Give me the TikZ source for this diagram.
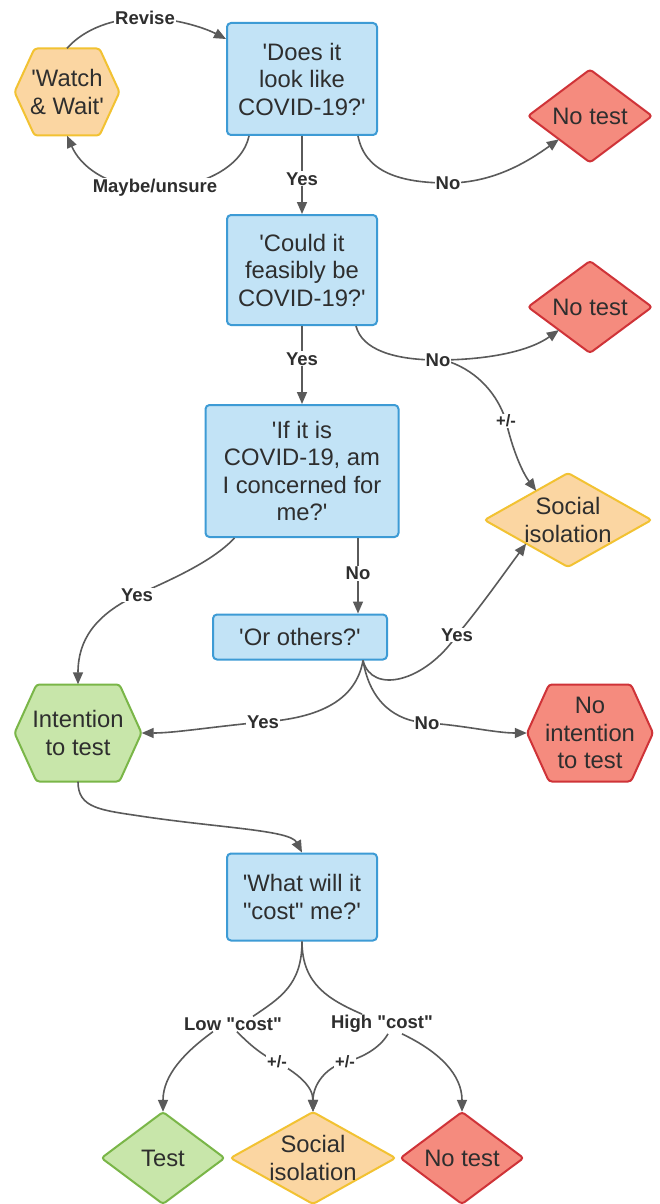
\documentclass[tikz,border=0pt]{standalone}
\usepackage{fontspec}
\setmainfont{Liberation Sans}
\usetikzlibrary{arrows.meta,calc}
\definecolor{bfill}{HTML}{C2E3F6}
\definecolor{bdraw}{HTML}{3D9BD5}
\definecolor{ofill}{HTML}{FBD6A2}
\definecolor{odraw}{HTML}{F2C232}
\definecolor{rfill}{HTML}{F58B7E}
\definecolor{rdraw}{HTML}{CF3338}
\definecolor{gfill}{HTML}{C8E6AA}
\definecolor{gdraw}{HTML}{7AB648}
\definecolor{txtc}{HTML}{2E2E2E}
\definecolor{linec}{HTML}{5A5A5A}
\newcommand\sq{\textquotesingle}
\newcommand\dq{\textquotedbl}
% #1 name, #2 cx, #3 cy, #4 half width, #5 half height, #6 tip, #7 style, #8 text
\newcommand\hexshape[8]{%
  \draw[#7] (#2-#4,#3) -- (#2-#4+#6,#3-#5) -- (#2+#4-#6,#3-#5) -- (#2+#4,#3)
     -- (#2+#4-#6,#3+#5) -- (#2-#4+#6,#3+#5) -- cycle;
  \node[txt, minimum width=2*#4, minimum height=2*#5] (#1) at (#2,#3) {#8};}
% #1 name, #2 cx, #3 cy, #4 half width, #5 half height, #6 style, #7 text
\newcommand\diashape[7]{%
  \draw[#6] (#2-#4,#3) -- (#2,#3-#5) -- (#2+#4,#3) -- (#2,#3+#5) -- cycle;
  \node[txt, minimum width=2*#4, minimum height=2*#5] (#1) at (#2,#3) {#7};}
\begin{document}
\begin{tikzpicture}[x=1pt,y=-1pt,
  txt/.style={font=\fontsize{23.8}{27.5}\selectfont, text=txtc, align=center, inner sep=0pt},
  bluebox/.style={txt, draw=bdraw, fill=bfill, line width=2pt, rounded corners=4pt},
  oshape/.style={fill=ofill, draw=odraw, line width=2pt, rounded corners=3pt},
  rshape/.style={fill=rfill, draw=rdraw, line width=2pt, rounded corners=3pt},
  gshape/.style={fill=gfill, draw=gdraw, line width=2pt, rounded corners=3pt},
  lbl/.style={font=\bfseries\fontsize{18.5}{19}\selectfont, text=txtc, fill=white, inner sep=1pt},
  pmlbl/.style={lbl, font=\bfseries\fontsize{16.5}{17}\selectfont},
  plain/.style={draw=linec, line width=1.6pt},
  arr/.style={plain, -{Triangle[length=12pt,width=10pt]}}]
\useasboundingbox (0,0) rectangle (660,1204);
\fill[white] (0,0) rectangle (660,1204);

% boxes
\node[bluebox, minimum width=150, minimum height=112] (b1) at (302,79) {\sq Does it\\look like\\COVID-19?\sq};
\node[bluebox, minimum width=150, minimum height=110] (b2) at (302,270) {\sq Could it\\feasibly be\\COVID-19?\sq};
\node[bluebox, minimum width=193, minimum height=132] (b3) at (302,471) {\sq If it is\\COVID-19, am\\I concerned for\\me?\sq};
\node[bluebox, minimum width=174, minimum height=45] (b4) at (300,637) {\sq Or others?\sq};
\node[bluebox, minimum width=150, minimum height=87] (b5) at (302,897) {\sq What will it\\\dq cost\dq{} me?\sq};

% hexagons
\hexshape{ww}{67}{92}{52.5}{43.5}{20}{oshape}{\sq Watch\\\& Wait\sq}
\hexshape{it}{78}{733}{63.5}{48.5}{22}{gshape}{Intention\\to test}
\hexshape{nit}{590}{733}{63}{48.5}{22}{rshape}{No\\intention\\to test}

% diamonds
\diashape{nt1}{590}{116}{62}{46.5}{rshape}{No test}
\diashape{nt2}{590}{307}{62}{46}{rshape}{No test}
\diashape{si1}{568}{520}{83.5}{47}{oshape}{Social\\isolation}
\diashape{test}{163}{1158}{61.5}{46}{gshape}{Test}
\diashape{si2}{313}{1158}{82.5}{46}{oshape}{Social\\isolation}
\diashape{nt3}{462}{1158}{61.5}{46}{rshape}{No test}

% label points
\coordinate (lrev) at (145,18);
\coordinate (lmay) at (155,188);
\coordinate (lno1) at (448,183);
\coordinate (lno2) at (438,360);
\coordinate (lpm1) at (506,421);
\coordinate (lyes3) at (137,595);
\coordinate (lyes4) at (263,722);
\coordinate (lyes5) at (457,635);
\coordinate (lno4) at (427,723);
\coordinate (lpm2) at (277,1062);
\coordinate (lpm3) at (345,1062);
\coordinate (bend) at (140,816);

% connectors
\draw[arr] (ww.north) .. controls (85,28) and (115,18) .. (lrev) .. controls (175,18) and (205,28) .. ([yshift=-17pt]b1.north west);
\draw[arr] ([xshift=23pt]b1.south west) .. controls (243,165) and (205,188) .. (lmay) .. controls (105,188) and (80,165) .. (ww.south);
\draw[arr] (b1.south) -- node[lbl,pos=0.55]{Yes} (b2.north);
\draw[arr] ([xshift=-20pt]b1.south east) .. controls (365,172) and (400,183) .. (lno1) .. controls (495,183) and (530,160) .. ($(nt1.west)!0.5!(nt1.south)$);
\draw[arr] (b2.south) -- node[lbl,pos=0.42]{Yes} (b3.north);
\draw[arr] ([xshift=-22pt]b2.south east) .. controls (362,350) and (395,360) .. (lno2) .. controls (485,360) and (528,352) .. ($(nt2.west)!0.5!(nt2.south)$);
\draw[arr] ([xshift=12pt,yshift=-2pt]lno2) .. controls (478,372) and (498,395) .. (lpm1) .. controls (512,448) and (522,472) .. ($(si1.west)!0.62!(si1.north)$);
\draw[arr] ([xshift=56pt]b3.south) -- node[lbl,pos=0.47]{No} ([xshift=58pt]b4.north);
\draw[arr] ([xshift=30pt]b3.south west) .. controls (212,562) and (170,580) .. (lyes3) .. controls (95,615) and (78,640) .. (it.north);
\draw[arr] ([xshift=63pt]b4.south) .. controls (356,700) and (320,718) .. (lyes4) .. controls (210,727) and (175,733) .. (it.east);
\draw[arr] ([xshift=63pt]b4.south) .. controls (372,695) and (425,682) .. (lyes5) .. controls (482,605) and (505,572) .. ($(si1.west)!0.5!(si1.south)$);
\draw[arr] ([xshift=63pt]b4.south) .. controls (370,702) and (395,721) .. (lno4) .. controls (462,725) and (495,733) .. (nit.west);
\draw[arr] (it.south) .. controls (78,808) and (100,810) .. (bend) .. controls (220,828) and (290,830) .. (b5.north);

% bottom split
\node[lbl] (low) at (233,1024) {Low \dq cost\dq};
\node[lbl] (high) at (382,1024) {High \dq cost\dq};
\draw[plain] (b5.south) .. controls (302,985) and (280,998) .. ([xshift=20pt]low.north);
\draw[plain] (b5.south) .. controls (302,985) and (330,1000) .. ([xshift=-20pt]high.north);
\draw[arr] ([xshift=-20pt]low.south) .. controls (185,1052) and (163,1075) .. (test.north);
\draw[arr] ([xshift=4pt]low.south) .. controls (250,1045) and (262,1055) .. (lpm2) .. controls (295,1072) and (313,1085) .. (si2.north);
\draw[arr] ([xshift=6pt]high.south) .. controls (380,1048) and (362,1058) .. (lpm3) .. controls (325,1068) and (313,1085) .. (si2.north);
\draw[arr] ([xshift=20pt]high.south) .. controls (440,1052) and (462,1075) .. (nt3.north);

% labels
\node[lbl] at (lrev) {Revise};
\node[lbl] at (lmay) {Maybe/unsure};
\node[lbl] at (lno1) {No};
\node[lbl] at (lno2) {No};
\node[pmlbl] at (lpm1) {+/-};
\node[lbl] at (lyes3) {Yes};
\node[lbl] at (lyes4) {Yes};
\node[lbl] at (lyes5) {Yes};
\node[lbl] at (lno4) {No};
\node[pmlbl] at (lpm2) {+/-};
\node[pmlbl] at (lpm3) {+/-};
\end{tikzpicture}
\end{document}
